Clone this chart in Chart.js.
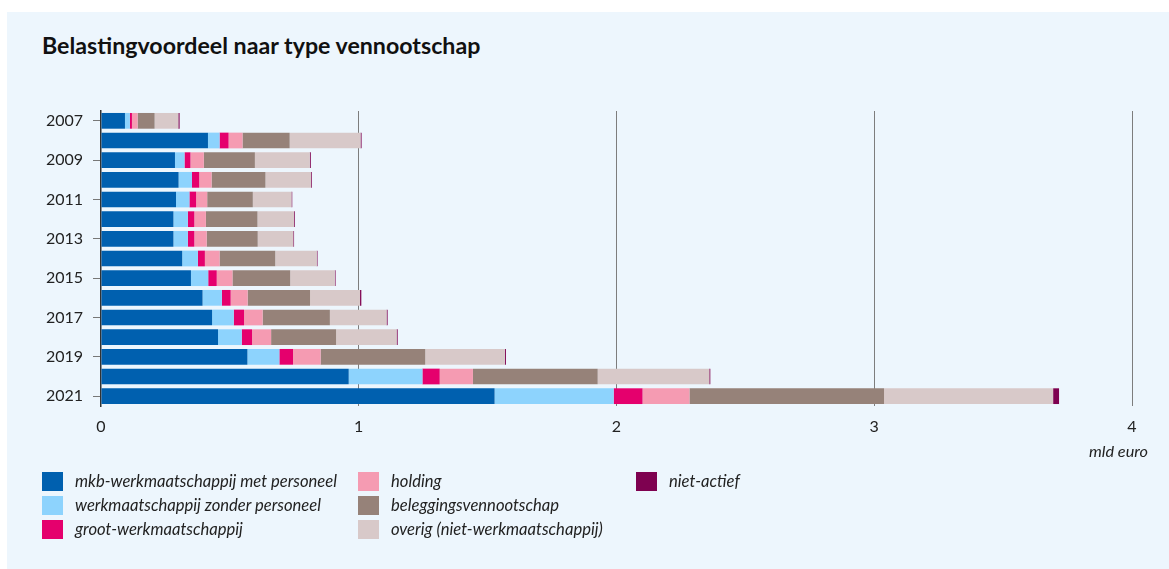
<!DOCTYPE html>
<html>
<head>
<meta charset="utf-8">
<script src="https://cdn.jsdelivr.net/npm/chart.js@4.4.1/dist/chart.umd.min.js"></script>
<style>
  html, body { margin: 0; padding: 0; background: #ffffff; }
  body { width: 1169px; height: 569px; position: relative; overflow: hidden; font-family: Lato, "Open Sans", sans-serif; }
  #panel { position: absolute; left: 7px; top: 12px; right: 0; bottom: 0; background: #EDF6FD; }
  #title { position: absolute; left: 42px; top: 31px; font-size: 23.2px; font-weight: 700; color: #111; white-space: nowrap; }
  #unit { position: absolute; right: 21px; top: 441px; font-size: 16.3px; font-style: italic; color: #222; }
  canvas { position: absolute; left: 0; top: 0; }
  .lg { position: absolute; display: flex; align-items: center; font-size: 16.6px; font-style: italic; color: #222; white-space: nowrap; }
  .lg span.box { display: inline-block; width: 21px; height: 19px; margin-right: 12px; }
</style>
</head>
<body>
<div id="panel"></div>
<div id="title">Belastingvoordeel naar type vennootschap</div>
<canvas id="c" width="1169" height="569"></canvas>
<div id="unit">mld euro</div>
<div id="legend"></div>
<script>
const years = ['2007','2008','2009','2010','2011','2012','2013','2014','2015','2016','2017','2018','2019','2020','2021'];
const seriesNames = ['mkb-werkmaatschappij met personeel','werkmaatschappij zonder personeel','groot-werkmaatschappij','holding','beleggingsvennootschap','overig (niet-werkmaatschappij)','niet-actief'];
const mkbMetPersoneel = [0.093, 0.415, 0.287, 0.301, 0.291, 0.281, 0.281, 0.315, 0.349, 0.394, 0.431, 0.454, 0.568, 0.961, 1.527];
const zonderPersoneel = [0.019, 0.045, 0.037, 0.052, 0.052, 0.056, 0.056, 0.061, 0.067, 0.075, 0.084, 0.092, 0.124, 0.286, 0.462];
const grootWerk = [0.008, 0.035, 0.023, 0.028, 0.026, 0.025, 0.025, 0.027, 0.033, 0.034, 0.040, 0.040, 0.053, 0.067, 0.112];
const holding = [0.022, 0.054, 0.052, 0.048, 0.043, 0.045, 0.048, 0.057, 0.061, 0.066, 0.072, 0.074, 0.107, 0.129, 0.182];
const beleggings = [0.066, 0.183, 0.198, 0.209, 0.177, 0.200, 0.198, 0.216, 0.224, 0.242, 0.261, 0.252, 0.406, 0.484, 0.755];
const overig = [0.092, 0.275, 0.213, 0.177, 0.150, 0.142, 0.138, 0.161, 0.173, 0.194, 0.220, 0.235, 0.309, 0.433, 0.656];
const nietActief = [0.005, 0.004, 0.004, 0.003, 0.003, 0.003, 0.003, 0.003, 0.003, 0.005, 0.004, 0.004, 0.004, 0.004, 0.023];
const xTicks = [0, 1, 2, 3, 4];

const colors = ['#0060AF', '#8DD3FD', '#E5006D', '#F59BB2', '#968279', '#D8C9C9', '#7E0150'];
const values = [mkbMetPersoneel, zonderPersoneel, grootWerk, holding, beleggings, overig, nietActief];

const datasets = seriesNames.map((n, i) => ({
  label: n, data: values[i], backgroundColor: colors[i], borderWidth: 0,
  barPercentage: 0.8, categoryPercentage: 1.0
}));

// HTML legend (column-major, 3 rows)
const lg = document.getElementById('legend');
const colX = [42, 358, 636];
const rowY = [471, 495, 519];
seriesNames.forEach((n, i) => {
  const col = Math.floor(i / 3), row = i % 3;
  const d = document.createElement('div');
  d.className = 'lg';
  d.style.left = colX[col] + 'px';
  d.style.top = rowY[row] + 'px';
  d.innerHTML = '<span class="box" style="background:' + colors[i] + '"></span>' + n;
  lg.appendChild(d);
});

new Chart(document.getElementById('c'), {
  type: 'bar',
  data: { labels: years, datasets },
  options: {
    indexAxis: 'y',
    responsive: false,
    animation: false,
    devicePixelRatio: 1,
    layout: { padding: { left: 0, right: 37, top: 111, bottom: 123 } },
    plugins: { legend: { display: false }, title: { display: false }, tooltip: { enabled: false } },
    scales: {
      x: {
        stacked: true, min: 0, max: 4,
        afterFit: s => { s.height = 40; },
        afterBuildTicks: s => { s.ticks = xTicks.map(v => ({ value: v })); },
        border: { display: false },
        grid: { color: ctx => ctx.tick && ctx.tick.value === 0 ? 'rgba(0,0,0,0)' : '#7d7d7d', lineWidth: 1, drawTicks: false },
        ticks: { padding: 11, color: '#222', font: { family: 'Lato', size: 16 } }
      },
      y: {
        stacked: true,
        afterFit: s => { s.width = 101; },
        border: { display: true, color: '#333', width: 1.5 },
        grid: { offset: false, drawOnChartArea: false, drawTicks: true, tickLength: 8,
                color: ctx => (ctx.index % 2 === 0 ? '#777' : 'rgba(0,0,0,0)') },
        ticks: {
          padding: 10, color: '#222', font: { family: 'Lato', size: 16 },
          autoSkip: false,
          callback: function(v, i) { return i % 2 === 0 ? this.getLabelForValue(v) : ''; }
        }
      }
    }
  }
});
</script>
</body>
</html>
